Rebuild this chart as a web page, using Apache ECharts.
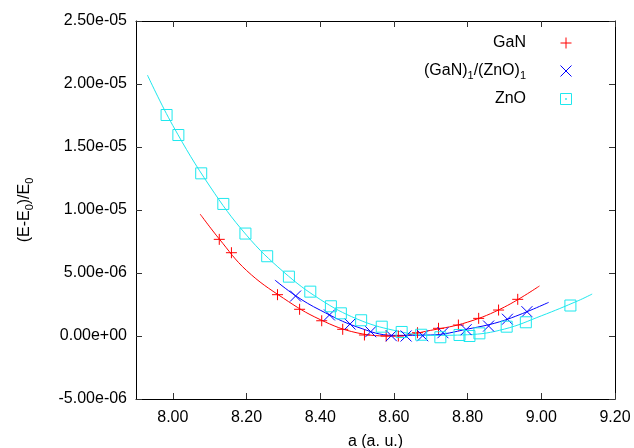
<!DOCTYPE html>
<html>
<head>
<meta charset="utf-8">
<script src="https://cdn.jsdelivr.net/npm/echarts@6/dist/echarts.min.js"></script>
<style>html,body{margin:0;padding:0;background:#fff}#c{width:634px;height:448px}</style>
</head>
<body>
<div id="c"></div>
<script>
// Values of (E-E0)/E0 are given in units of 1e-6
const UNIT = 1e-6;
const xTicks = [8.0, 8.2, 8.4, 8.6, 8.8, 9.0, 9.2];

const ganA = [8.126, 8.159, 8.284, 8.344, 8.404, 8.461, 8.520, 8.579, 8.612, 8.664, 8.721, 8.775, 8.830, 8.884, 8.936];
const ganE = [7.67, 6.61, 3.28, 2.12, 1.21, 0.53, 0.08, 0.00, 0.00, 0.26, 0.61, 0.87, 1.40, 2.06, 2.91];

const mixA = [8.333, 8.425, 8.481, 8.537, 8.593, 8.633, 8.678, 8.733, 8.796, 8.857, 8.908, 8.961];
const mixE = [3.17, 1.67, 0.95, 0.34, 0.02, 0.00, 0.02, 0.26, 0.50, 0.79, 1.33, 1.93];

const znoA = [7.983, 8.015, 8.077, 8.137, 8.197, 8.256, 8.315, 8.373, 8.429, 8.456, 8.511, 8.567, 8.621, 8.674, 8.726, 8.778, 8.805, 8.832, 8.906, 8.958, 9.079];
const znoE = [17.54, 15.95, 12.91, 10.48, 8.13, 6.33, 4.71, 3.52, 2.36, 1.80, 1.25, 0.74, 0.32, 0.10, -0.10, 0.08, 0.00, 0.21, 0.74, 1.09, 2.42];

// fitted curves
const ganFitA = [8.074, 8.126, 8.2, 8.3, 8.4, 8.5, 8.6, 8.7, 8.8, 8.9, 8.995];
const ganFitE = [9.68, 7.70, 5.20, 3.00, 1.30, 0.25, 0.00, 0.45, 1.10, 2.30, 3.97];

const mixFitA = [8.277, 8.333, 8.4, 8.5, 8.6, 8.7, 8.8, 8.9, 9.02];
const mixFitE = [4.44, 3.20, 2.05, 0.72, 0.05, 0.08, 0.55, 1.25, 2.67];

const znoFitA = [7.931, 8.0, 8.1, 8.2, 8.3, 8.4, 8.5, 8.6, 8.7, 8.8, 8.9, 9.0, 9.1, 9.138];
const znoFitE = [20.71, 16.7, 11.9, 8.0, 5.1, 2.9, 1.35, 0.45, 0.05, 0.1, 0.55, 1.6, 2.8, 3.33];

const names = ['GaN', '(GaN)1/(ZnO)1', 'ZnO'];
const colors = ['#ff0000', '#0000ff', '#1ee8ee'];
const symbols = [
  'path://M0,5L10,5M5,0L5,10',
  'path://M0,0L10,10M10,0L0,10',
  'path://M0,0L10,0L10,10L0,10Z'
];
const legendSymbols = [
  symbols[0], symbols[1],
  'path://M0,0L10,0L10,10L0,10ZM4.6,4.6L5.4,4.6L5.4,5.4L4.6,5.4Z'
];

function pts(a, e) { return a.map((x, i) => [x, e[i] * UNIT]); }

function fmtExp(v) {
  if (Math.abs(v) < 1e-15) return '0.00e+00';
  const s = v.toExponential(2);
  const parts = s.split('e');
  const ex = parseInt(parts[1], 10);
  const sign = ex < 0 ? '-' : '+';
  return parts[0] + 'e' + sign + String(Math.abs(ex)).padStart(2, '0');
}

const FONT = 'Liberation Sans';
const FS = 16;

const chart = echarts.init(document.getElementById('c'), null, {renderer: 'canvas'});

const baseX = {
  type: 'value', min: 7.9, max: 9.2,
  axisLine: {show: true, onZero: false, lineStyle: {color: '#000', width: 1}},
  axisTick: {show: true, inside: true, length: 6, customValues: xTicks, lineStyle: {color: '#333'}},
  splitLine: {show: false}
};
const baseY = {
  type: 'value', min: -5 * UNIT, max: 25 * UNIT, interval: 5 * UNIT,
  axisLine: {show: true, onZero: false, lineStyle: {color: '#000', width: 1}},
  axisTick: {show: true, inside: true, length: 6, lineStyle: {color: '#333'}},
  splitLine: {show: false}
};

const series = [];
const fits = [[ganFitA, ganFitE], [mixFitA, mixFitE], [znoFitA, znoFitE]];
const dat = [[ganA, ganE], [mixA, mixE], [znoA, znoE]];
for (let i = 0; i < 3; i++) {
  series.push({
    name: names[i] + ' fit', type: 'line', smooth: 0.4, showSymbol: false,
    data: pts(fits[i][0], fits[i][1]),
    lineStyle: {color: colors[i], width: 1}, z: 2
  });
}
for (let i = 0; i < 3; i++) {
  series.push({
    name: names[i], type: 'scatter', symbol: symbols[i], symbolSize: 11,
    data: pts(dat[i][0], dat[i][1]),
    itemStyle: {color: 'transparent', borderColor: colors[i], borderWidth: 1, opacity: 1}, z: 3
  });
}

chart.setOption({
  animation: false,
  backgroundColor: '#fff',
  textStyle: {fontFamily: FONT},
  grid: {left: 136, right: 19, top: 21, bottom: 49, containLabel: false, outerBoundsMode: 'none'},
  legend: {
    orient: 'vertical', right: 57, top: 28, align: 'right',
    itemWidth: 70, itemHeight: 11, itemGap: 8, selectedMode: false,
    data: names.map((n, i) => ({
      name: n, icon: legendSymbols[i],
      itemStyle: {color: 'transparent', borderColor: colors[i], borderWidth: 1}
    })),
    formatter: function (n) { return n === names[1] ? '(GaN){s|1}/(ZnO){s|1}' : n; },
    textStyle: {
      fontFamily: FONT, fontSize: FS, color: '#000', lineHeight: 20,
      rich: {s: {fontFamily: FONT, fontSize: 11, lineHeight: 10, verticalAlign: 'bottom', color: '#000'}}
    }
  },
  xAxis: [
    Object.assign({}, baseX, {
      position: 'bottom',
      name: 'a (a. u.)', nameLocation: 'middle', nameGap: 35,
      nameTextStyle: {fontFamily: FONT, fontSize: FS, color: '#000'},
      axisLabel: {show: true, customValues: xTicks, margin: 11, fontFamily: FONT, fontSize: FS, color: '#000',
        formatter: v => v.toFixed(2)}
    }),
    Object.assign({}, baseX, {position: 'top', axisLabel: {show: false}})
  ],
  yAxis: [
    Object.assign({}, baseY, {
      position: 'left',
      name: '(E-E{s|0})/E{s|0}', nameLocation: 'middle', nameGap: 101, nameRotate: 90,
      nameTextStyle: {fontFamily: FONT, fontSize: FS, color: '#000', lineHeight: 20,
        rich: {s: {fontFamily: FONT, fontSize: 11, lineHeight: 10, verticalAlign: 'bottom', color: '#000'}}},
      axisLabel: {show: true, margin: 9, fontFamily: FONT, fontSize: FS, color: '#000', formatter: fmtExp}
    }),
    Object.assign({}, baseY, {position: 'right', axisLabel: {show: false}})
  ],
  series: series
});
</script>
</body>
</html>
